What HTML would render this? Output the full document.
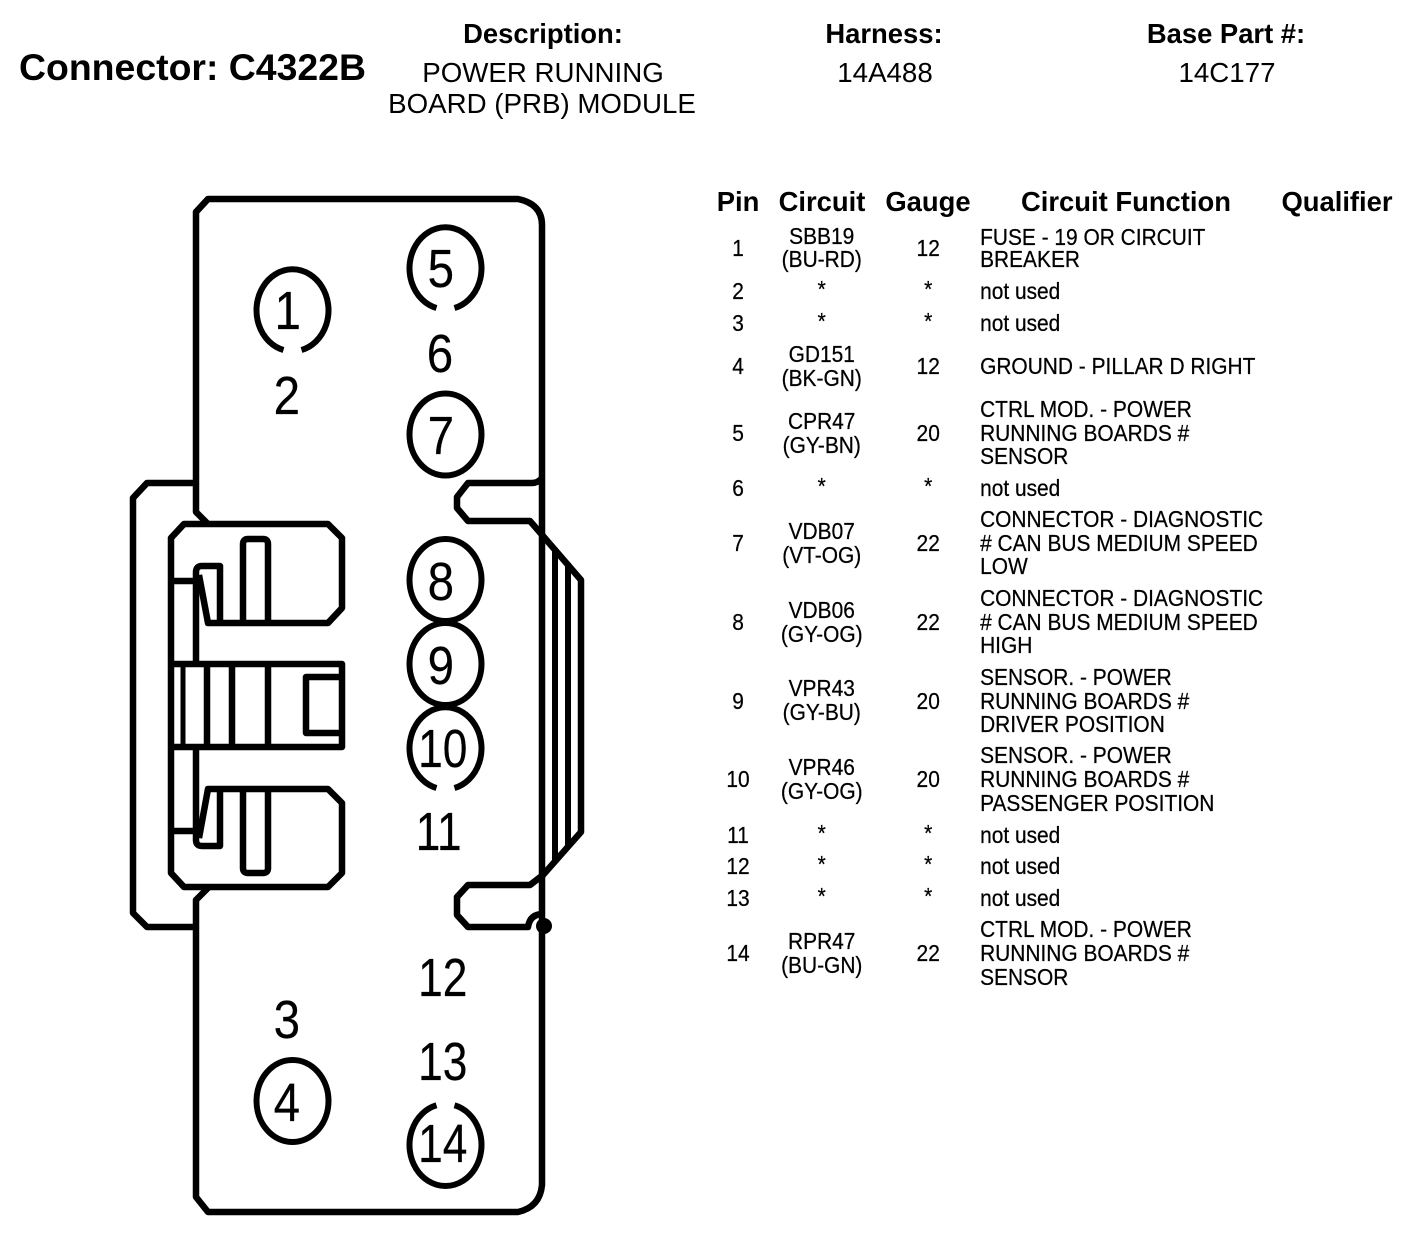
<!DOCTYPE html>
<html><head><meta charset="utf-8"><style>
html,body{margin:0;padding:0;background:#fff}
svg{display:block}
text{font-family:"Liberation Sans",Arial,sans-serif;fill:#000}
.b{font-weight:bold}
.c{text-anchor:middle}
.big{font-size:54px;stroke:#000;stroke-width:.2}
.h{font-size:27.4px}
.v{font-size:27.7px}
.t{font-size:23px;stroke:#000;stroke-width:.25}
</style></head><body>
<svg width="1408" height="1248" viewBox="0 0 1408 1248" xmlns="http://www.w3.org/2000/svg">
<rect width="1408" height="1248" fill="#fff"/>
<text class="b" x="19" y="80" font-size="37.4">Connector: C4322B</text>
<text class="b c h" x="543" y="43">Description:</text>
<text class="b c h" x="884" y="43">Harness:</text>
<text class="b c h" x="1226" y="43">Base Part #:</text>
<text class="c v" x="543" y="82">POWER RUNNING</text>
<text class="c v" x="542" y="113">BOARD (PRB) MODULE</text>
<text class="c v" x="885" y="82">14A488</text>
<text class="c v" x="1227" y="82">14C177</text>
<text class="b c h" x="738" y="211">Pin</text>
<text class="b c h" x="822" y="211">Circuit</text>
<text class="b c h" x="928" y="211">Gauge</text>
<text class="b c h" x="1126" y="211">Circuit Function</text>
<text class="b c h" x="1337" y="211">Qualifier</text>

<g fill="none" stroke="#000" stroke-width="6.5" stroke-linejoin="round">
<!-- body -->
<path d="M208 524L196 512V212L208 199H518Q542 204 542 225V1185Q540 1207 518 1212H208L196 1197V900L208 888"/>
<!-- outer bracket -->
<path d="M196 483H147L133 498V913L147 927H196"/>
<!-- notches -->
<path d="M542 478Q538 483 532 483H468L457 497V508L468 521H530L543 536L581 580V832L543 875L530 885H468L457 897V915L468 927H528Q530 914 543 914" />
<!-- ribs -->
<path d="M555 548V862M568 563V848M581 580V832" stroke-width="6"/>
<!-- inner housing -->
<path d="M199 575L208 623H328L342 608V538L328 524H184L171 538V873L184 887H328L342 873V803L328 789H208L199 838"/>
<path d="M196 662V572Q196 566 202 566H220V623"/>
<path d="M196 748V840Q196 846 202 846H220V789"/>
<path d="M171 581H196M171 831H196"/>
<path d="M243 623V544Q243 539 248 539H263Q268 539 268 544V623"/>
<path d="M243 789V868Q243 873 248 873H263Q268 873 268 868V789"/>
<path d="M171 664H342V747H171"/>
<path d="M342 677H306V733H342"/>
<path d="M183 664V747" stroke-width="5"/>
<path d="M207 664V747M232 664V747M268 664V747"/>
</g>
<g fill="none" stroke="#000" stroke-width="6">
<!-- pin circles -->
<ellipse cx="445.500" cy="434.500" rx="36" ry="41"/>
<ellipse cx="445.500" cy="580" rx="36" ry="41"/>
<ellipse cx="445.500" cy="664" rx="36" ry="41"/>
<ellipse cx="292.500" cy="1101" rx="36" ry="41"/>
<path d="M283.500 350A36 41 0 1 1 301.500 350"/>
<path d="M436.500 308A36 41 0 1 1 454.500 308"/>
<path d="M436.500 788A36 41 0 1 1 454.500 788"/>
<path d="M454.500 1105.300A36 41 0 1 1 436.500 1105.300"/>
</g>
<circle cx="544" cy="926" r="8" fill="#000"/>

<g transform="scale(.88,1)">
<text class="big c" x="327" y="329">1</text>
<text class="big c" x="326" y="414">2</text>
<text class="big c" x="326" y="1038">3</text>
<text class="big c" x="326" y="1121">4</text>
<text class="big c" x="501" y="287">5</text>
<text class="big c" x="500" y="372">6</text>
<text class="big c" x="501" y="454">7</text>
<text class="big c" x="501" y="600">8</text>
<text class="big c" x="501" y="684">9</text>
</g>
<g transform="scale(.82,1)">
<text class="big c" x="540" y="767">10</text>
<text class="big c" x="535" y="850">11</text>
<text class="big c" x="540" y="996">12</text>
<text class="big c" x="540" y="1080">13</text>
<text class="big c" x="540" y="1162">14</text>
</g>

<g transform="scale(.91,1)">
<!-- pins -->
<text class="c t" x="811" y="256">1</text>
<text class="c t" x="811" y="299">2</text>
<text class="c t" x="811" y="331">3</text>
<text class="c t" x="811" y="374">4</text>
<text class="c t" x="811" y="441">5</text>
<text class="c t" x="811" y="496">6</text>
<text class="c t" x="811" y="551">7</text>
<text class="c t" x="811" y="630">8</text>
<text class="c t" x="811" y="709">9</text>
<text class="c t" x="811" y="787">10</text>
<text class="c t" x="811" y="843">11</text>
<text class="c t" x="811" y="874">12</text>
<text class="c t" x="811" y="906">13</text>
<text class="c t" x="811" y="961">14</text>
<!-- circuit -->
<text class="c t" x="903" y="244">SBB19</text><text class="c t" x="903" y="267">(BU-RD)</text>
<text class="c t" x="903" y="297">*</text>
<text class="c t" x="903" y="329">*</text>
<text class="c t" x="903" y="362">GD151</text><text class="c t" x="903" y="386">(BK-GN)</text>
<text class="c t" x="903" y="429">CPR47</text><text class="c t" x="903" y="453">(GY-BN)</text>
<text class="c t" x="903" y="494">*</text>
<text class="c t" x="903" y="539">VDB07</text><text class="c t" x="903" y="563">(VT-OG)</text>
<text class="c t" x="903" y="618">VDB06</text><text class="c t" x="903" y="642">(GY-OG)</text>
<text class="c t" x="903" y="696">VPR43</text><text class="c t" x="903" y="720">(GY-BU)</text>
<text class="c t" x="903" y="775">VPR46</text><text class="c t" x="903" y="799">(GY-OG)</text>
<text class="c t" x="903" y="841">*</text>
<text class="c t" x="903" y="872">*</text>
<text class="c t" x="903" y="904">*</text>
<text class="c t" x="903" y="949">RPR47</text><text class="c t" x="903" y="973">(BU-GN)</text>
<!-- gauge -->
<text class="c t" x="1020" y="256">12</text>
<text class="c t" x="1020" y="297">*</text>
<text class="c t" x="1020" y="329">*</text>
<text class="c t" x="1020" y="374">12</text>
<text class="c t" x="1020" y="441">20</text>
<text class="c t" x="1020" y="494">*</text>
<text class="c t" x="1020" y="551">22</text>
<text class="c t" x="1020" y="630">22</text>
<text class="c t" x="1020" y="709">20</text>
<text class="c t" x="1020" y="787">20</text>
<text class="c t" x="1020" y="841">*</text>
<text class="c t" x="1020" y="872">*</text>
<text class="c t" x="1020" y="904">*</text>
<text class="c t" x="1020" y="961">22</text>
<!-- function -->
<text class="t" x="1077" y="245">FUSE - 19 OR CIRCUIT</text>
<text class="t" x="1077" y="267">BREAKER</text>
<text class="t" x="1077" y="299">not used</text>
<text class="t" x="1077" y="331">not used</text>
<text class="t" x="1077" y="374">GROUND - PILLAR D RIGHT</text>
<text class="t" x="1077" y="417">CTRL MOD. - POWER</text>
<text class="t" x="1077" y="441">RUNNING BOARDS #</text>
<text class="t" x="1077" y="464">SENSOR</text>
<text class="t" x="1077" y="496">not used</text>
<text class="t" x="1077" y="527">CONNECTOR - DIAGNOSTIC</text>
<text class="t" x="1077" y="551"># CAN BUS MEDIUM SPEED</text>
<text class="t" x="1077" y="574">LOW</text>
<text class="t" x="1077" y="606">CONNECTOR - DIAGNOSTIC</text>
<text class="t" x="1077" y="630"># CAN BUS MEDIUM SPEED</text>
<text class="t" x="1077" y="653">HIGH</text>
<text class="t" x="1077" y="685">SENSOR. - POWER</text>
<text class="t" x="1077" y="709">RUNNING BOARDS #</text>
<text class="t" x="1077" y="732">DRIVER POSITION</text>
<text class="t" x="1077" y="763">SENSOR. - POWER</text>
<text class="t" x="1077" y="787">RUNNING BOARDS #</text>
<text class="t" x="1077" y="811">PASSENGER POSITION</text>
<text class="t" x="1077" y="843">not used</text>
<text class="t" x="1077" y="874">not used</text>
<text class="t" x="1077" y="906">not used</text>
<text class="t" x="1077" y="937">CTRL MOD. - POWER</text>
<text class="t" x="1077" y="961">RUNNING BOARDS #</text>
<text class="t" x="1077" y="985">SENSOR</text>
</g>
</svg>
</body></html>
